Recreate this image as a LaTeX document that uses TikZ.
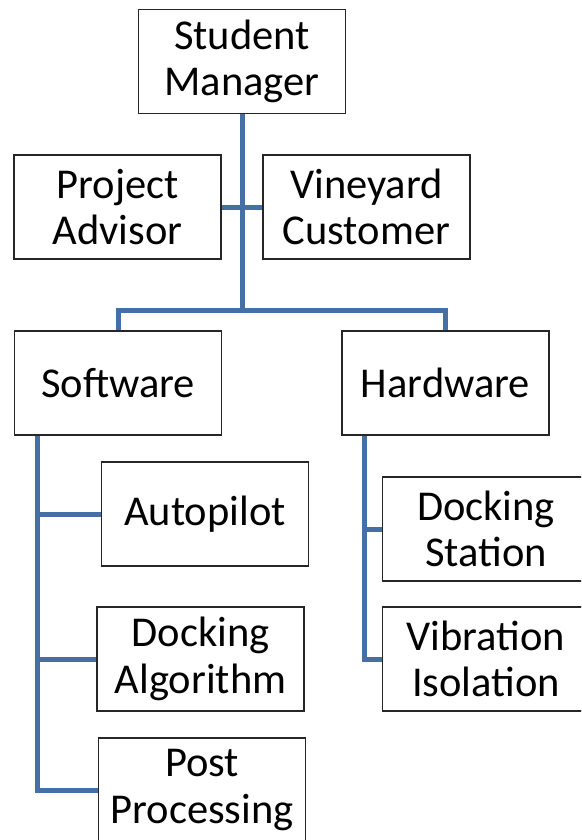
\documentclass[tikz,border=0pt]{standalone}
\usepackage{fontspec}
\setmainfont{Carlito}
\usetikzlibrary{backgrounds}
\definecolor{linkblue}{HTML}{466FA6}
\begin{document}
\begin{tikzpicture}[x=1pt,y=-1pt,
  box/.style={draw=black!85,line width=1.3pt,fill=white,rectangle,minimum width=207pt,minimum height=104pt,inner sep=0pt,align=center,font=\fontsize{42.5}{46.5}\selectfont},
  link/.style={draw=linkblue,line width=5pt}]
\useasboundingbox (0,0) rectangle (581,840);
\clip (0,0) rectangle (581,840);
\coordinate (hub) at (242,310);
\coordinate (swt) at (37,435);
\coordinate (hwt) at (364,435);
\node[box] (sm) at (242,61.5) {Student\\Manager};
\node[box] (pa) at (117.5,207) {Project\\Advisor};
\node[box] (vc) at (366.5,207) {Vineyard\\Customer};
\node[box] (sw) at (118,383) {Software};
\node[box] (hw) at (445.5,383) {Hardware};
\node[box] (ap) at (205,514) {Autopilot};
\node[box] (da) at (200.5,659) {Docking\\Algorithm};
\node[box] (pp) at (202,790) {Post\\Processing};
\node[box] (ds) at (486,529) {Docking\\Station};
\node[box] (vi) at (486,659) {Vibration\\Isolation};
\begin{scope}[on background layer]
\path[link] (sm.south) -- (hub);
\path[link] (pa.east) -- (vc.west);
\path[link] (sw.north) |- (hub) -| (hw.north);
\path[link] (swt) |- (pp.west);
\path[link] (swt |- ap.west) -- (ap.west);
\path[link] (swt |- da.west) -- (da.west);
\path[link] (hwt) |- (vi.west);
\path[link] (hwt |- ds.west) -- (ds.west);
\end{scope}
\end{tikzpicture}
\end{document}
